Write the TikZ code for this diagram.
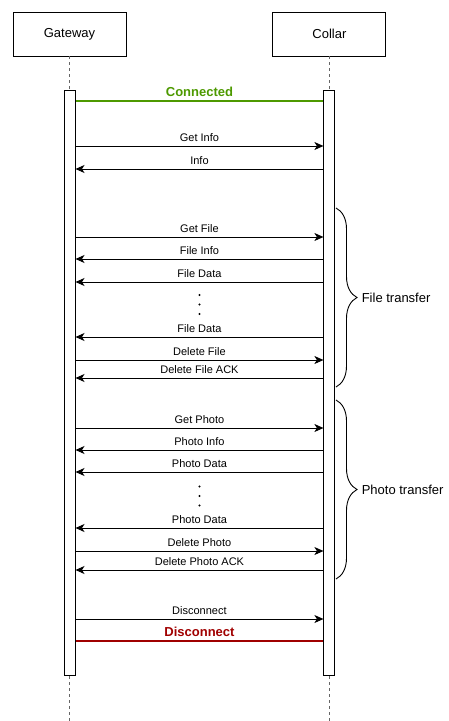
\documentclass[tikz,border=0pt]{standalone}
\usepackage{fontspec}
\setmainfont{Liberation Sans}
\usetikzlibrary{positioning,arrows.meta,decorations.pathreplacing}
\definecolor{linkgreen}{RGB}{77,153,0}
\definecolor{linkred}{RGB}{160,0,0}

\begin{document}
\begin{tikzpicture}[x=1pt, y=-1pt,
  actor/.style = {draw, line width=0.9pt, minimum width=113pt, minimum height=44pt, font=\fontsize{13}{15}\selectfont},
  bar/.style = {draw, line width=1pt, fill=white, minimum width=11pt, minimum height=585pt, inner sep=0pt},
  lifeline/.style = {dashed, line width=0.8pt, gray!80!black},
  msg/.style = {-{Stealth[length=9pt, width=8pt, inset=2.5pt]}, line width=0.9pt},
  lbl/.style = {above=1.5pt, inner sep=2.5pt, font=\fontsize{11}{13}\selectfont},
  state/.style = {line width=1.3pt},
  statelbl/.style = {above=1.5pt, inner sep=2.5pt, font=\bfseries\fontsize{13}{15}\selectfont},
  brace/.style = {decorate, decoration={brace, amplitude=21pt}, line width=0.9pt},
  bracelbl/.style = {midway, right=22pt, font=\fontsize{13}{15}\selectfont}]
  \useasboundingbox (0,0) rectangle (448,721);

  % participants
  \node[actor] (gw) at (69.5,34) {Gateway};
  \node[actor] (col) [right=146pt of gw] {Collar};
  \node[bar] (gwbar) [below=34pt of gw] {};
  \node[bar] (colbar) [below=34pt of col] {};
  \coordinate[below=45pt of gwbar.south] (gwend);
  \coordinate[below=45pt of colbar.south] (colend);
  \draw[lifeline] (gw) -- (gwbar);
  \draw[lifeline] (col) -- (colbar);
  \draw[lifeline] (gwbar) -- (gwend);
  \draw[lifeline] (colbar) -- (colend);

  % connection state
  \draw[state, linkgreen] (colbar.west |- 0,101) -- node[statelbl, text=linkgreen] {Connected} (gwbar.east |- 0,101);
  \draw[state, linkred] (colbar.west |- 0,641) -- node[statelbl, text=linkred] {Disconnect} (gwbar.east |- 0,641);

  % requests
  \foreach \y/\txt in {146/Get Info, 237/Get File, 360/Delete File, 428/Get Photo, 551/Delete Photo, 619/Disconnect}
    \draw[msg] (gwbar.east |- 0,\y) -- node[lbl] {\txt} (colbar.west |- 0,\y);

  % replies
  \foreach \y/\txt in {169/Info, 259/File Info, 282/File Data, 337/File Data, 378/Delete File ACK,
                       450/Photo Info, 472/Photo Data, 528/Photo Data, 570/Delete Photo ACK}
    \draw[msg] (colbar.west |- 0,\y) -- node[lbl] {\txt} (gwbar.east |- 0,\y);

  % skipped data packets
  \coordinate (fdots) at (199.5,304.5);
  \coordinate (pdots) at (199.5,496);
  \foreach \d in {-9.5,0,9.5} {
    \fill (fdots) ++(0,\d) circle (1.2pt);
    \fill (pdots) ++(0,\d) circle (1.2pt);
  }

  % transfers
  \coordinate (ftop) at (336,208);
  \coordinate (fbot) at (336,387);
  \coordinate (ptop) at (336,400);
  \coordinate (pbot) at (336,579);
  \draw[brace] (ftop) -- node[bracelbl] {File transfer} (fbot);
  \draw[brace] (ptop) -- node[bracelbl] {Photo transfer} (pbot);
\end{tikzpicture}
\end{document}
